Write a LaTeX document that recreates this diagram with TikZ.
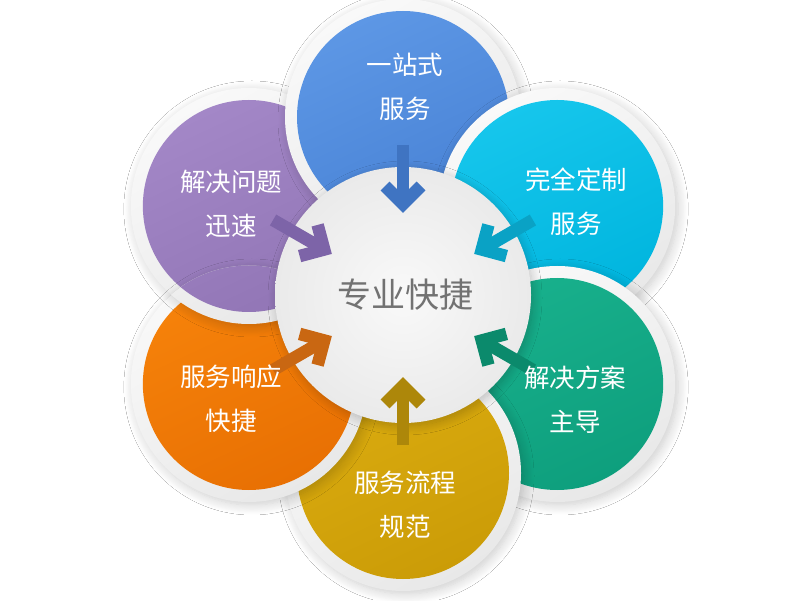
\documentclass[tikz,border=0pt]{standalone}
\usepackage{fontspec}
\newfontfamily\cjk{Noto Sans CJK SC}
\usetikzlibrary{calc,shadows.blur}
\definecolor{ringlight}{HTML}{F9F9F9}
\definecolor{ringdark}{HTML}{E8E8E8}
\definecolor{blueA}{HTML}{5D97E5}
\definecolor{blueB}{HTML}{4882D5}
\definecolor{blueC}{HTML}{3F74C2}
\definecolor{cyanA}{HTML}{16C6EC}
\definecolor{cyanB}{HTML}{00B5DE}
\definecolor{cyanC}{HTML}{0AA2C5}
\definecolor{greenA}{HTML}{18B08C}
\definecolor{greenB}{HTML}{0E9F7D}
\definecolor{greenC}{HTML}{0B8A6C}
\definecolor{goldA}{HTML}{DBAC10}
\definecolor{goldB}{HTML}{CB9C07}
\definecolor{goldC}{HTML}{AD870A}
\definecolor{orangeA}{HTML}{F6820A}
\definecolor{orangeB}{HTML}{E87003}
\definecolor{orangeC}{HTML}{C96712}
\definecolor{purpleA}{HTML}{A387C7}
\definecolor{purpleB}{HTML}{9276B6}
\definecolor{purpleC}{HTML}{7D64A8}
\definecolor{hubtext}{HTML}{727272}
\definecolor{hubinner}{HTML}{F9F9F9}
\definecolor{hubouter}{HTML}{EAEAEA}
\tikzset{
  ring/.style={circle, inner sep=0pt, minimum size=236pt,
    top color=ringlight, bottom color=ringdark, shading angle=30,
    blur shadow={shadow xshift=3pt, shadow yshift=-3pt, shadow blur radius=10pt,
      shadow blur steps=12, shadow opacity=20}},
  disc/.style={circle, inner sep=0pt, minimum size=212pt},
  hubdisc/.style={circle, inner sep=0pt, minimum size=256pt,
    inner color=hubinner, outer color=hubouter,
    blur shadow={shadow xshift=2pt, shadow yshift=-3pt, shadow blur radius=9pt,
      shadow blur steps=12, shadow opacity=22}},
  arrowline/.style={line width=12.5pt, line join=miter, miter limit=10, line cap=butt},
  petaltext/.style={text=white, align=center,
    font=\cjk\fontsize{25.5pt}{44pt}\selectfont},
  hublabel/.style={text=hubtext, font=\cjk\fontsize{34pt}{40pt}\selectfont}
}
\newcommand\petal[4]{%
  \node[ring] (#1r) at ($(C)+(#2:178)$) {};
  \node[disc, top color=#3, bottom color=#4, shading angle=25] (#1) at (#1r) {};
}
\newcommand\inarrow[2]{%
  \begin{scope}[shift={(C)}, rotate=#1]
    \draw[arrowline, draw=#2] (150,0) -- (95,0);
    \draw[arrowline, draw=#2] (109,18) -- (91,0) -- (109,-18);
  \end{scope}
}
\begin{document}
\begin{tikzpicture}[x=1pt,y=1pt]
\useasboundingbox (0,0) rectangle (800,600);
\fill[white] (0,0) rectangle (800,600);
\coordinate (C) at (403,305);
% petals, each overlapping the previous one clockwise
\petal{P}{150}{purpleA}{purpleB}
\petal{B}{90}{blueA}{blueB}
\petal{Cy}{30}{cyanA}{cyanB}
\petal{G}{-30}{greenA}{greenB}
\petal{Y}{-90}{goldA}{goldB}
\petal{O}{-150}{orangeA}{orangeB}
% purple lies over orange: redraw it inside orange's disc only
\begin{scope}
  \clip (Or.center) circle[radius=118.5];
  \petal{Pb}{150}{purpleA}{purpleB}
\end{scope}
% hub
\node[hubdisc] (hub) at (C) {};
% arrows
\inarrow{90}{blueC}
\inarrow{30}{cyanC}
\inarrow{-30}{greenC}
\inarrow{-90}{goldC}
\inarrow{-150}{orangeC}
\inarrow{150}{purpleC}
% texts
\node[hublabel] (hubt) at (405,305) {专业快捷};
\node[petaltext] (tB) at (405,513.5) {一站式\\服务};
\node[petaltext] (tCy) at (576,398) {完全定制\\服务};
\node[petaltext] (tG) at (575,200) {解决方案\\主导};
\node[petaltext] (tY) at (405,95.5) {服务流程\\规范};
\node[petaltext] (tO) at (231,201.5) {服务响应\\快捷};
\node[petaltext] (tP) at (231,396.5) {解决问题\\迅速};
\end{tikzpicture}
\end{document}
